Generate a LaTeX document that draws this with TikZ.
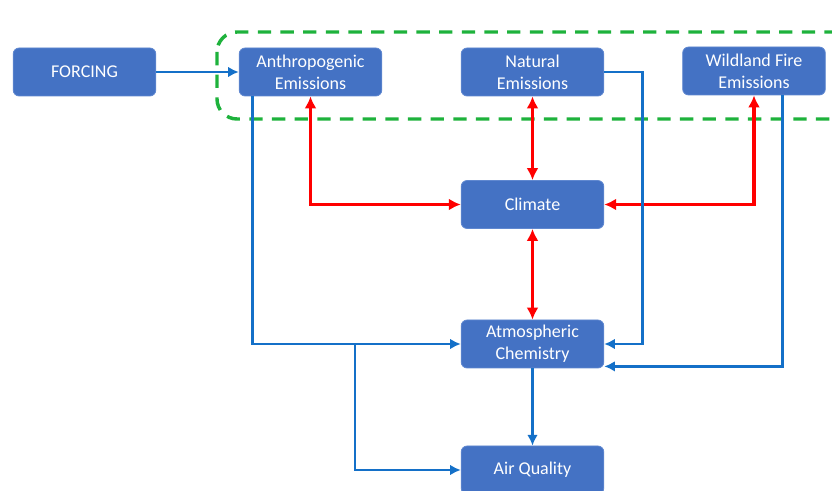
\documentclass[tikz,border=0pt]{standalone}
\usepackage{fontspec}
\setmainfont{Carlito}
\usepackage{tikz}
\usetikzlibrary{arrows.meta, positioning, calc}
\definecolor{boxfill}{RGB}{68,114,196}
\definecolor{boxline}{RGB}{96,136,208}
\definecolor{linkblue}{RGB}{20,112,200}
\definecolor{linkred}{RGB}{255,0,0}
\definecolor{groupgreen}{RGB}{30,178,60}

\begin{document}
\begin{tikzpicture}[x=0.75pt, y=-0.75pt,
    box/.style={rectangle, rounded corners=4.5pt, draw=boxline, line width=0.6pt, fill=boxfill, text=white,
      minimum width=107pt, minimum height=36pt, align=center, font=\fontsize{13.5}{16.5}\selectfont},
    blueline/.style={draw=linkblue, line width=2.2pt, -{Latex[length=8pt,width=8pt]}},
    redline/.style={draw=linkred, line width=2.6pt, {Latex[length=9pt,width=9pt]}-{Latex[length=9pt,width=9pt]}},
    groupline/.style={draw=groupgreen, line width=2.6pt, dash pattern=on 10pt off 7pt, rounded corners=15pt}]
    \useasboundingbox (0,0) rectangle (832,491);
    \clip (0,0) rectangle (832,491);
    \draw[groupline] (217,32) rectangle (860,119);%emissions group
    \node (forcing) [box] at (84.5,72) {FORCING};%forcing box
    \node (anthro) [box] at (310.5,72) {Anthropogenic\\Emissions};%anthropogenic emissions
    \node (natural) [box] at (532.5,72) {Natural\\Emissions};%natural emissions
    \node (wild) [box] at (754,71) {Wildland Fire\\Emissions};%wildland fire emissions
    \node (climate) [box] at (532.5,204.5) {Climate};%climate
    \node (chem) [box] at (532.5,344) {Atmospheric\\Chemistry};%atmospheric chemistry
    \node (aq) [box] at (532.5,470) {Air Quality};%air quality
    \draw[redline] (anthro.south) |- (climate.west);%anthro <-> climate
    \draw[redline] (natural) -- (climate);%natural <-> climate
    \draw[redline] (wild.south) |- (climate.east);%wildland <-> climate
    \draw[redline] (climate) -- (chem);%climate <-> chemistry
    \draw[blueline] (forcing) -- (anthro);%forcing drives anthro
    \draw[blueline] ($(anthro.south west)+(14,0)$) |- (chem.west);%anthro to chemistry
    \coordinate (split) at (355,344);%branch to air quality
    \draw[blueline] (split) |- (aq.west);%anthro to air quality
    \draw[blueline] (chem) -- (aq);%chemistry to air quality
    \draw[blueline] (natural.east) -- ++(38,0) |- (chem.east);%natural to chemistry
    \draw[blueline] ($(wild.south west)+(100,0)$) |- ($(chem.south east)+(0,-2)$);%wildland to chemistry
\end{tikzpicture}
\end{document}
